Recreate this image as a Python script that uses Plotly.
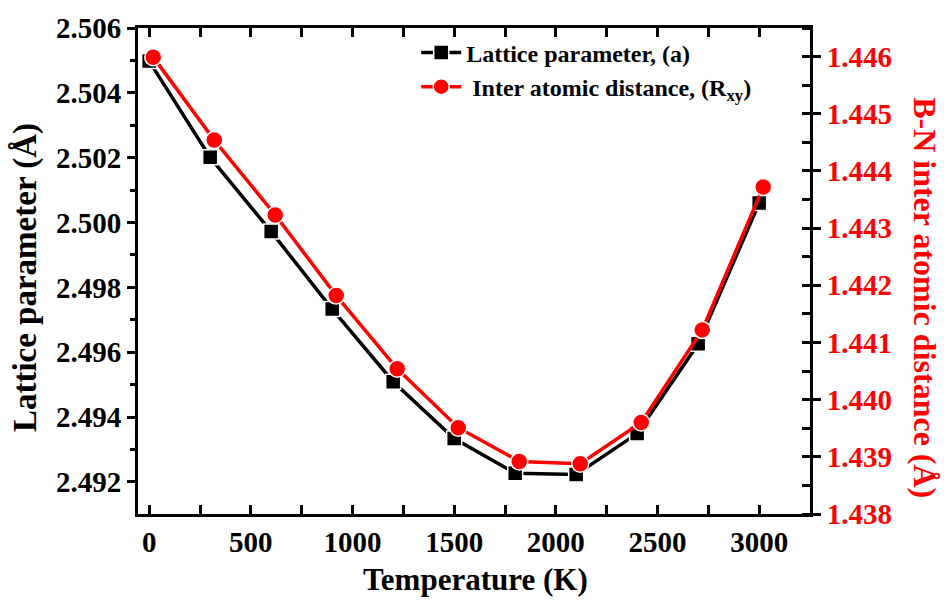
import plotly.graph_objects as go

# Data
temps_a = [0, 300, 600, 900, 1200, 1500, 1800, 2100, 2400, 2700, 3000]
lattice_a = [2.50498, 2.50201, 2.49972, 2.49733, 2.49509, 2.49334, 2.49227,
             2.49223, 2.49349, 2.49626, 2.50060]

temps_r = [20, 320, 620, 920, 1220, 1520, 1820, 2120, 2420, 2720, 3020]
rxy = [1.44599, 1.44454, 1.44323, 1.44182, 1.44054, 1.43951, 1.43892,
       1.43888, 1.43960, 1.44122, 1.44372]

x_ticks = [0, 500, 1000, 1500, 2000, 2500, 3000]

FONT = "Liberation Serif"
TICK = dict(family=FONT, size=29, color="black", weight="bold")

fig = go.Figure()
fig.add_trace(go.Scatter(
    x=temps_a, y=lattice_a, mode="lines+markers",
    name="Lattice parameter, (a)",
    line=dict(color="black", width=3.5),
    marker=dict(symbol="square", size=15, color="black",
                line=dict(color="white", width=1.5)),
))
fig.add_trace(go.Scatter(
    x=temps_r, y=rxy, mode="lines+markers", yaxis="y2",
    name=" Inter atomic distance, (R<sub>xy</sub>)",
    line=dict(color="#ff0000", width=3.5),
    marker=dict(symbol="circle", size=17, color="#ff0000",
                line=dict(color="white", width=1.5)),
))

fig.update_layout(
    width=944, height=600,
    margin=dict(l=138, r=134, t=24, b=86),
    paper_bgcolor="white", plot_bgcolor="white",
    showlegend=True,
    legend=dict(x=0.414, y=0.995, xanchor="left", yanchor="top",
                bgcolor="rgba(0,0,0,0)",
                font=dict(family=FONT, size=24, color="black", weight="bold"),
                tracegroupgap=0, itemwidth=40),
    xaxis=dict(range=[-55, 3250], tickvals=x_ticks, ticks="inside", ticklen=9,
               tickwidth=2.5, tickcolor="black", showline=True, linewidth=3,
               linecolor="black", mirror="allticks", showgrid=False,
               zeroline=False, tickfont=TICK,
               minor=dict(dtick=250, tick0=0, ticks="inside", ticklen=5,
                          tickwidth=2.5, tickcolor="black", showgrid=False)),
    yaxis=dict(range=[2.49101, 2.506], dtick=0.002, tick0=2.492,
               tickformat=".3f", ticks="outside", ticklen=8, tickwidth=2.5,
               tickcolor="black", showline=True, linewidth=3,
               linecolor="black", showgrid=False, zeroline=False,
               tickfont=TICK,
               minor=dict(dtick=0.001, ticks="outside", ticklen=5,
                          tickwidth=2.5, tickcolor="black", showgrid=False)),
    yaxis2=dict(range=[1.438, 1.4465], dtick=0.001, tick0=1.438,
                tickformat=".3f", overlaying="y", side="right",
                ticks="outside", ticklen=8, tickwidth=2.5, tickcolor="black",
                showline=True, linewidth=3, linecolor="black",
                showgrid=False, zeroline=False,
                tickfont=dict(family=FONT, size=29, color="#ff0000",
                              weight="bold"),
                minor=dict(dtick=0.0005, ticks="inside", ticklen=8,
                           tickwidth=2.5, tickcolor="black", showgrid=False)),
    annotations=[
        dict(text="Lattice parameter (Å)", xref="paper", yref="paper",
             x=-0.167, y=0.487, textangle=-90, showarrow=False,
             xanchor="center", yanchor="middle",
             font=dict(family=FONT, size=33, color="black", weight="bold")),
        dict(text="B-N inter atomic distance (Å)", xref="paper",
             yref="paper", x=1.172, y=0.445, textangle=90, showarrow=False,
             xanchor="center", yanchor="middle",
             font=dict(family=FONT, size=32, color="#ff0000", weight="bold")),
        dict(text="Temperature (K)", xref="paper", yref="paper",
             x=0.5015, y=-0.135, showarrow=False, xanchor="center",
             yanchor="middle",
             font=dict(family=FONT, size=31, color="black", weight="bold")),
    ],
)

fig.write_html("out.html")
